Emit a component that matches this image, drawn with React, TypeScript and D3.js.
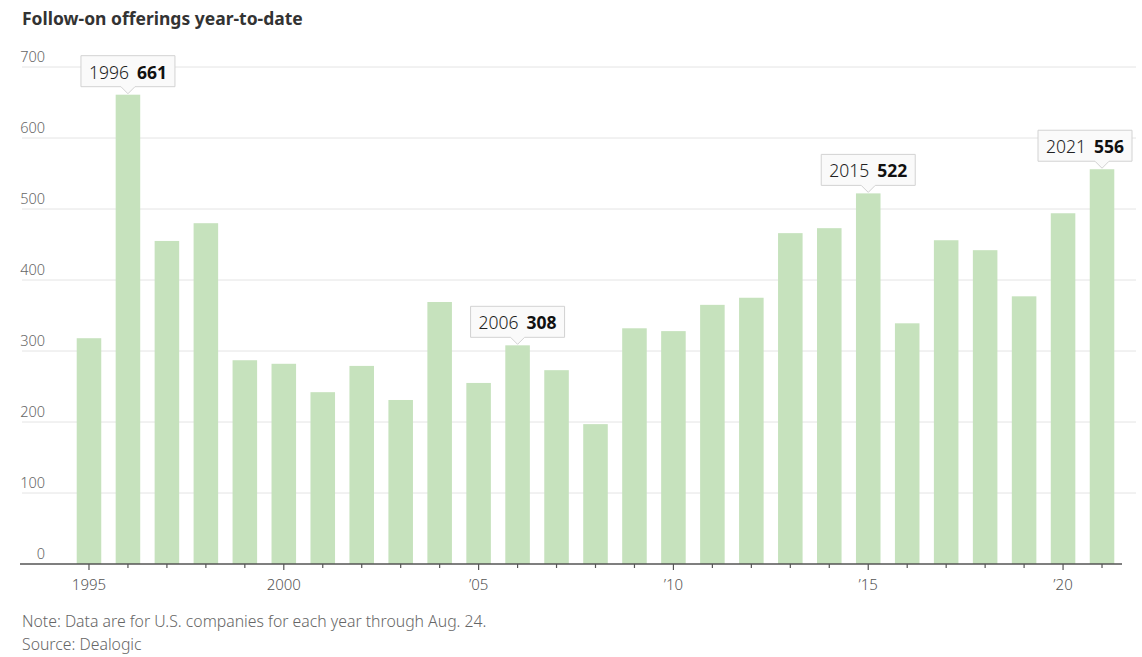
import * as React from 'react';
import * as d3 from 'd3';

// chart data
const years: number[] = d3.range(1995, 2022);
const offerings: number[] = [
  318, 661, 455, 480, 287, 282, 242, 279, 231, 369,
  255, 308, 273, 197, 332, 328, 365, 375, 466, 473,
  522, 339, 456, 442, 377, 494, 556,
];
const highlightYears: number[] = [1996, 2006, 2015, 2021];
const yTicks: number[] = [0, 100, 200, 300, 400, 500, 600, 700];
const xLabelYears: number[] = [1995, 2000, 2005, 2010, 2015, 2020];
const xLabels: string[] = ['1995', '2000', '\u201905', '\u201910', '\u201915', '\u201920'];

const title = 'Follow-on offerings year-to-date';
const note = 'Note: Data are for U.S. companies for each year through Aug. 24.';
const source = 'Source: Dealogic';

const width = 1142;
const height = 657;
const font = '"Noto Sans", "Open Sans", sans-serif';
const barColor = '#c6e2bd';

// rough text width using canvas, used to size the callout boxes
const measure = (text: string, weight: string, size: number) => {
  const canvas = document.createElement('canvas');
  const ctx = canvas.getContext('2d');
  if (!ctx) return text.length * size * 0.56;
  ctx.font = `${weight} ${size}px ${font}`;
  return ctx.measureText(text).width;
};

const App = () => {
  const x = d3.scaleBand<number>()
    .domain(years)
    .range([69.5, 1121.5])
    .paddingInner(0.37)
    .paddingOuter(0.185);

  const y = d3.scaleLinear()
    .domain([0, 700])
    .range([564, 67]);

  const cx = (yr: number) => (x(yr) as number) + x.bandwidth() / 2;

  const calloutSize = 17.5;
  const callouts = highlightYears.map((yr) => {
    const v = offerings[years.indexOf(yr)];
    const yearW = measure(String(yr), '300', calloutSize);
    const valW = measure(String(v), '700', calloutSize);
    const gap = 8;
    const pad = 8;
    const boxW = yearW + gap + valW + pad * 2;
    const tipX = cx(yr);
    let left = tipX - boxW / 2;
    left = Math.min(left, 1132 - boxW);
    const tipY = y(v) - 1;
    const boxBottom = tipY - 7;
    const boxTop = boxBottom - 31;
    return { yr, v, yearW, gap, pad, boxW, left, tipX, tipY, boxTop, boxBottom };
  });

  return (
    <div>
      <style>{'body{margin:0}'}</style>
      <svg width={width} height={height} style={{ display: 'block', background: '#fff' }}>
        <text x={22} y={25} fontFamily={font} fontSize={17.5} fontWeight={700} fill="#333">
          {title}
        </text>

        {/* gridlines and y labels */}
        {yTicks.map((t) => (
          <g key={t}>
            {t > 0 && (
              <line x1={22} x2={1136} y1={y(t)} y2={y(t)} stroke="#e4e4e4" strokeWidth={1} />
            )}
            <text
              x={45}
              y={y(t) - 5}
              textAnchor="end"
              fontFamily={font}
              fontSize={14.5}
              fontWeight={300}
              fill="#666"
            >
              {t}
            </text>
          </g>
        ))}

        {/* bars */}
        {years.map((yr, i) => (
          <rect
            key={yr}
            x={x(yr)}
            y={y(offerings[i])}
            width={x.bandwidth()}
            height={y(0) - y(offerings[i])}
            fill={barColor}
          />
        ))}

        {/* x axis */}
        <line x1={20} x2={1122} y1={y(0)} y2={y(0)} stroke="#555" strokeWidth={1.5} />
        {years.map((yr) => {
          const major = xLabelYears.includes(yr);
          return (
            <line
              key={yr}
              x1={cx(yr)}
              x2={cx(yr)}
              y1={y(0)}
              y2={y(0) + (major ? 6 : 4)}
              stroke="#555"
              strokeWidth={1.2}
            />
          );
        })}
        {xLabelYears.map((yr, i) => (
          <text
            key={yr}
            x={cx(yr)}
            y={590}
            textAnchor="middle"
            fontFamily={font}
            fontSize={15}
            fontWeight={300}
            fill="#555"
          >
            {xLabels[i]}
          </text>
        ))}

        {/* callouts */}
        {callouts.map((c) => (
          <g key={c.yr}>
            <path
              d={`M${c.left},${c.boxTop}H${c.left + c.boxW}V${c.boxBottom}H${c.tipX + 7}L${c.tipX},${c.tipY}L${c.tipX - 7},${c.boxBottom}H${c.left}Z`}
              fill="#fafafa"
              stroke="#d2d2d2"
              strokeWidth={1}
            />
            <text
              x={c.left + c.pad}
              y={c.boxTop + 23}
              fontFamily={font}
              fontSize={calloutSize}
              fontWeight={300}
              fill="#222"
            >
              {c.yr}
            </text>
            <text
              x={c.left + c.pad + c.yearW + c.gap}
              y={c.boxTop + 23}
              fontFamily={font}
              fontSize={calloutSize}
              fontWeight={700}
              fill="#111"
            >
              {c.v}
            </text>
          </g>
        ))}

        {/* footnotes */}
        <text x={22} y={627} fontFamily={font} fontSize={15.8} fontWeight={300} fill="#666">{note}</text>
        <text x={22} y={650} fontFamily={font} fontSize={15.8} fontWeight={300} fill="#666">{source}</text>
      </svg>
    </div>
  );
};

export default App;
